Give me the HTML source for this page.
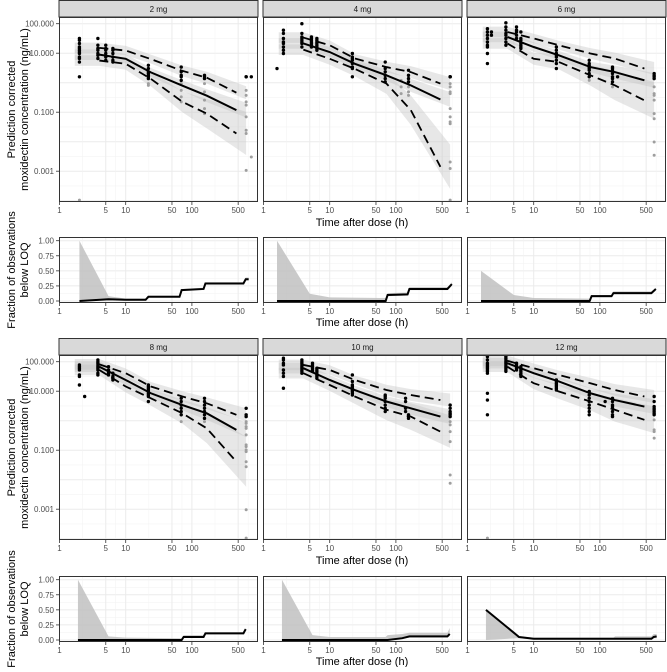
<!DOCTYPE html>
<html><head><meta charset="utf-8"><style>
html,body{margin:0;padding:0;background:#fff;}
svg text{font-family:"Liberation Sans",sans-serif;}
</style></head><body>
<svg id="chart" width="667" height="667" viewBox="0 0 667 667" xmlns="http://www.w3.org/2000/svg"></svg>
<script>
// ---- data ----
const panelLabels = ["2 mg","4 mg","6 mg","8 mg","10 mg","12 mg"];
const xTicks = [1,5,10,50,100,500];
const yTicksConc = [2,1,-1,-3];
const yTickLabelsConc = ["100.000","10.000","0.100","0.001"];
const yTicksBlq = [1,0.75,0.5,0.25,0];
const yTickLabelsBlq = ["1.00","0.75","0.50","0.25","0.00"];
const lineT = [4,10,24,72,168,470];
const bandT = [1.7,4,10,24,72,168,660];
const ciMedHW = [0.18,0.18,0.16,0.15,0.18,0.22,0.25];
const ciHiHW = [0.18,0.18,0.16,0.15,0.18,0.2,0.22];
const med = [
 [0.95,0.81,0.35,-0.10,-0.44,-0.93],
 [1.33,1.04,0.64,0.25,-0.09,-0.57],
 [1.55,1.21,0.93,0.53,0.36,0.08],
 [1.83,1.38,0.93,0.53,0.25,-0.31],
 [1.78,1.38,1.04,0.65,0.42,0.14],
 [1.95,1.61,1.33,0.93,0.70,0.48]];
const p95 = [
 [1.18,1.09,0.80,0.40,0.17,-0.34],
 [1.53,1.27,0.82,0.53,0.36,-0.03],
 [1.72,1.50,1.27,0.99,0.82,0.48],
 [1.91,1.61,1.16,0.82,0.59,0.20],
 [1.89,1.72,1.38,1.04,0.87,0.70],
 [2.03,1.78,1.55,1.27,1.04,0.82]];
const p05 = [
 [0.75,0.64,0.13,-0.65,-1.05,-1.72],
 [1.12,0.81,0.47,-0.03,-0.93,-2.85],
 [1.33,0.81,0.70,0.25,-0.09,-0.60],
 [1.72,1.16,0.76,0.25,-0.26,-1.39],
 [1.61,1.21,0.82,0.37,0.14,-0.37],
 [1.83,1.27,0.99,0.65,0.37,0.03]];
const ciLoHW = [
 [0.18,0.18,0.2,0.25,0.35,0.5,0.73],
 [0.18,0.18,0.2,0.25,0.35,0.5,0.75],
 [0.18,0.18,0.2,0.25,0.35,0.5,0.62],
 [0.18,0.18,0.2,0.25,0.35,0.5,0.85],
 [0.18,0.18,0.2,0.25,0.35,0.45,0.55],
 [0.18,0.18,0.2,0.25,0.3,0.4,0.45]];
// observations: [time (h), [log10 concentration...]]
const obsBlack = [
 [[2,[1.50,1.44,1.33,1.21,1.16,1.10,1.04,0.99,0.87,0.82,0.70,0.20]],[3.8,[1.50,1.27,1.16,1.10,0.99,0.93,0.82]],[5,[1.27,1.16,1.10,0.99,0.87,0.76]],[6.4,[1.16,1.10,0.99,0.87,0.76,0.70]],[22,[0.59,0.48,0.37,0.31,0.25,0.20,0.14]],[69,[0.53,0.37,0.25,0.20,0.08]],[155,[0.25,0.20,0.14]],[660,[0.20,0.20]],[790,[0.20]]],
 [[1.6,[0.48]],[2,[1.78,1.67,1.50,1.38,1.33,1.21,1.10,0.99]],[3.8,[2.00,1.67,1.55,1.50,1.44,1.38,1.33,1.21]],[5.3,[1.55,1.50,1.44,1.38,1.33,1.27,1.21]],[6.4,[1.50,1.44,1.38,1.33,1.27,1.21,1.16,1.10]],[22,[0.99,0.87,0.82,0.76,0.65,0.53,0.48,0.20]],[69,[0.70,0.48,0.37,0.25,0.14,0.03]],[155,[0.42,0.25,0.14,0.03]],[660,[0.20,0.20,0.20]]],
 [[2,[1.83,1.72,1.61,1.50,1.38,1.27,1.21,0.99,0.65]],[2.3,[1.72,1.61]],[3.8,[2.03,1.89,1.78,1.67,1.61,1.50,1.38,1.27]],[5.5,[1.89,1.78,1.72,1.61,1.50]],[6.4,[1.72,1.50,1.44,1.33,1.27,1.21,1.16]],[22,[1.21,1.10,0.99,0.93,0.87,0.76,0.65,0.48]],[69,[0.76,0.65,0.59,0.53,0.48,0.42,0.31,0.20]],[155,[0.53,0.48,0.42,0.31,0.20,0.14,0.03]],[185,[0.20]],[660,[0.31,0.25,0.20,0.14]]],
 [[2,[1.89,1.83,1.78,1.72,1.55,1.50,1.21]],[2.4,[0.82]],[3.8,[2.06,2.00,1.95,1.89,1.83,1.78,1.72,1.61,1.55]],[5.5,[1.83,1.72,1.67,1.61,1.55]],[6.4,[1.61,1.50,1.44,1.38]],[22,[1.21,1.16,1.10,1.04,0.99,0.93,0.87,0.82,0.65]],[69,[0.76,0.65,0.53,0.42,0.31,0.20]],[155,[0.76,0.65,0.53,0.42,0.31,0.20,0.08]],[660,[0.42,0.20,0.14]]],
 [[2,[2.12,2.06,1.95,1.89,1.72,1.61,1.50,1.10]],[3.8,[2.06,2.00,1.95,1.89,1.83,1.78,1.72,1.67,1.61]],[5.5,[1.95,1.89,1.83,1.78,1.72,1.67]],[6.4,[1.78,1.72,1.67,1.61,1.55,1.50,1.44]],[22,[1.55,1.33,1.21,1.16,1.10,1.04,0.99,0.93,0.87]],[69,[0.87,0.82,0.76,0.65,0.53,0.42,0.31]],[140,[0.76,0.65,0.42,0.31]],[155,[0.20,0.14,0.08]],[660,[0.53,0.42,0.31,0.25,0.20,0.14]]],
 [[2,[2.17,2.06,1.95,1.89,1.83,1.78,1.72,1.67,1.61,0.93,0.70,0.20]],[3.8,[2.17,2.12,2.06,2.00,1.95,1.89,1.83,1.78,1.72,1.67]],[5.5,[1.95,1.89,1.83,1.78,1.72]],[6.4,[1.83,1.78,1.72,1.67,1.61,1.55,1.50]],[22,[1.38,1.33,1.27,1.21,1.16,1.10,1.04]],[69,[0.99,0.87,0.76,0.65,0.53,0.42,0.31,0.20]],[120,[0.65]],[155,[0.76,0.65,0.53,0.48,0.42,0.31,0.20,0.14]],[660,[0.82,0.65,0.48,0.42,0.37,0.31,0.25,0.20]]]];
const obsGray = [
 [[2,[-3.98]],[22,[-0.03,-0.09]],[69,[-0.03,-0.26,-0.48,-0.65]],[155,[-0.03,-0.31,-0.59,-0.88,-1.05]],[660,[-0.26,-0.43,-0.65,-0.76,-1.16,-1.61,-1.72,-2.97]],[790,[-2.52]]],
 [[120,[0.08,-0.14,-0.37]],[155,[-0.14,-0.31,-0.43]],[660,[-0.03,-0.14,-0.31,-0.37,-0.88,-1.16,-1.33,-1.39,-2.69,-2.91,-3.98]]],
 [[69,[0.08]],[155,[-0.14]],[660,[-0.14,-0.37,-0.43,-0.59,-1.05,-1.22,-2.01,-2.46]]],
 [[69,[-0.03]],[155,[-0.03]],[660,[-0.03,-0.09,-0.20,-0.26,-0.48,-0.82,-0.88,-0.99,-1.05,-1.39,-1.56,-3.02,-3.98]]],
 [[660,[-0.03,-0.14,-0.37,-0.71,-1.84,-2.12]]],
 [[2,[-3.98]],[660,[0.03,-0.31,-0.37,-0.59]]]];
// BLQ fractions
const blqT = [
 [2,5.5,10,20,22,65,70,150,160,600,650,720],
 [1.6,5,10,70,75,150,160,600,700],
 [1.6,5,10,70,75,150,160,600,700],
 [1.9,5.5,10,70,75,150,160,600,650],
 [1.9,5.5,10,70,75,125,160,600,650],
 [1.9,6,10,160,170,600,650,720]];
const blqObs = [
 [0,0.03,0.02,0.02,0.07,0.07,0.18,0.2,0.29,0.29,0.36,0.36],
 [0,0,0,0,0.1,0.11,0.2,0.2,0.28],
 [0,0,0,0,0.08,0.08,0.13,0.13,0.2],
 [0,0,0,0,0.05,0.05,0.11,0.11,0.18],
 [0,0,0,0,0,0.03,0.06,0.06,0.1],
 [0.5,0.05,0.02,0.02,0.02,0.02,0.05,0.06]];
const blqHi = [
 [1.0,0.08,0.04,0.04,0.09,0.09,0.2,0.22,0.31,0.31,0.39,0.39],
 [1.0,0.12,0.06,0.05,0.13,0.14,0.23,0.23,0.31],
 [0.5,0.1,0.05,0.04,0.1,0.1,0.16,0.16,0.22],
 [1.0,0.06,0.04,0.03,0.08,0.08,0.13,0.13,0.2],
 [1.0,0.08,0.05,0.05,0.08,0.1,0.12,0.12,0.2],
 [0.5,0.06,0.04,0.04,0.06,0.06,0.1,0.1]];
const blqLo = [
 [0,0.02,0.01,0.01,0.06,0.06,0.17,0.19,0.28,0.28,0.34,0.34],
 [0,0,0,0,0.08,0.09,0.18,0.18,0.25],
 [0,0,0,0,0.06,0.06,0.11,0.11,0.17],
 [0,0,0,0,0.04,0.04,0.1,0.1,0.16],
 [0,0,0,0,0,0.02,0.04,0.04,0.07],
 [0,0.03,0.01,0.01,0.01,0.01,0.03,0.03]];

// ---- layout ----
const svg = document.getElementById('chart');
const NS = "http://www.w3.org/2000/svg";
const colX = [59,263,467], PW = 199;
const stripY = [0,338], concY = [17,355], blqY = [237,576], CH = 185, BH = 66;
function mk(tag, attrs, parent){ const e=document.createElementNS(NS,tag); for(const k in attrs) e.setAttribute(k,attrs[k]); (parent||svg).appendChild(e); return e; }
function xs(c,t){ return colX[c]+0.5+Math.log10(t)*66.2; }
function yc(r,v){ return concY[r]+6.7+(2-v)*29.5; }
function yb(r,f){ return blqY[r]+3.7+(1-f)*60.3; }
function txt(x,y,s,size,anchor,fill,parent){ const t=mk('text',{x:x,y:y,'font-size':size,'text-anchor':anchor||'middle',fill:fill||'#4d4d4d'},parent); t.textContent=s; return t; }

const xMinor = [Math.sqrt(5),Math.sqrt(50),Math.sqrt(500),Math.sqrt(5000),Math.sqrt(50000),Math.sqrt(500000)];

for(let p=0;p<6;p++){
  const r = Math.floor(p/3), c = p%3, x0 = colX[c];
  const g = mk('g',{});
  
  
  const s = mk('rect',{x:x0,y:stripY[r]+0.5,width:PW,height:16.5,fill:'#d9d9d9',stroke:'#333','stroke-width':1},g);
  
  
  const st = txt(x0+PW/2,stripY[r]+12,panelLabels[p],8,'middle','#1a1a1a',g);
  
  
  const cy0 = concY[r];
  mk('rect',{x:x0,y:cy0,width:PW,height:CH,fill:'#fff'},g);
  const clipId='clip'+p;
  const cp=mk('clipPath',{id:clipId},g); mk('rect',{x:x0,y:cy0,width:PW,height:CH},cp);
  const cg = mk('g',{'clip-path':'url(#'+clipId+')'},g);
  for(let v=-4.5; v<=2.5; v+=1) mk('line',{x1:x0,x2:x0+PW,y1:yc(r,v),y2:yc(r,v),stroke:'#f2f2f2','stroke-width':0.5},cg);
  for(let v=-4; v<=2; v++) mk('line',{x1:x0,x2:x0+PW,y1:yc(r,v),y2:yc(r,v),stroke:'#ebebeb','stroke-width':1},cg);
  xMinor.forEach(t=>mk('line',{x1:xs(c,t),x2:xs(c,t),y1:cy0,y2:cy0+CH,stroke:'#f2f2f2','stroke-width':0.5},cg));
  xTicks.forEach(t=>mk('line',{x1:xs(c,t),x2:xs(c,t),y1:cy0,y2:cy0+CH,stroke:'#ebebeb','stroke-width':1},cg));
  function band(center, hw, name){
    const cen=[center[0]].concat(center);
    let pts=[];
    bandT.forEach((t,i)=>pts.push(xs(c,t)+','+yc(r,cen[i]+hw[i])));
    for(let i=bandT.length-1;i>=0;i--) pts.push(xs(c,bandT[i])+','+yc(r,cen[i]-hw[i]));
    const b=mk('polygon',{points:pts.join(' '),fill:'#c4c4c4','fill-opacity':0.4},cg);
    
    
  }
  band(p95[p],ciHiHW,'ci-band-p95');
  band(med[p],ciMedHW,'ci-band-median');
  band(p05[p],ciLoHW[p],'ci-band-p05');
  obsGray[p].forEach(gr=>gr[1].forEach(v=>{
    const d=mk('circle',{cx:xs(c,gr[0]),cy:yc(r,v),r:1.5,fill:'#9e9e9e'},cg);
    
    
  }));
  obsBlack[p].forEach(gr=>gr[1].forEach(v=>{
    const d=mk('circle',{cx:xs(c,gr[0]),cy:yc(r,v),r:1.7,fill:'#000'},cg);
    
    
  }));
  function line(vals, dash, name){
    const pts=lineT.map((t,i)=>xs(c,t)+','+yc(r,vals[i])).join(' ');
    const l=mk('polyline',{points:pts,fill:'none',stroke:'#000','stroke-width':dash?1.8:2,'stroke-dasharray':dash||'none'},cg);
    
    
  }
  line(p95[p],'9,5','line-p95');
  line(p05[p],'9,5','line-p05');
  line(med[p],null,'line-median');
  mk('rect',{x:x0+0.5,y:cy0+0.5,width:PW-1,height:CH-1,fill:'none',stroke:'#333','stroke-width':1},g);
  xTicks.forEach(t=>{ mk('line',{x1:xs(c,t),x2:xs(c,t),y1:cy0+CH,y2:cy0+CH+3,stroke:'#333','stroke-width':0.8},g);
    txt(xs(c,t),cy0+CH+11,String(t),8,'middle','#4d4d4d',g); });
  if(c===0){ yTicksConc.forEach((v,i)=>{ mk('line',{x1:x0-3,x2:x0,y1:yc(r,v),y2:yc(r,v),stroke:'#333','stroke-width':0.8},g);
    txt(x0-5,yc(r,v)+3,yTickLabelsConc[i],8,'end','#4d4d4d',g); }); }
  const by0 = blqY[r];
  mk('rect',{x:x0,y:by0,width:PW,height:BH,fill:'#fff'},g);
  const bg = mk('g',{},g);
  for(let f=0.125; f<1.1; f+=0.25) mk('line',{x1:x0,x2:x0+PW,y1:yb(r,f),y2:yb(r,f),stroke:'#f2f2f2','stroke-width':0.5},bg);
  yTicksBlq.forEach(f=>mk('line',{x1:x0,x2:x0+PW,y1:yb(r,f),y2:yb(r,f),stroke:'#ebebeb','stroke-width':1},bg));
  xMinor.forEach(t=>mk('line',{x1:xs(c,t),x2:xs(c,t),y1:by0,y2:by0+BH,stroke:'#f2f2f2','stroke-width':0.5},bg));
  xTicks.forEach(t=>mk('line',{x1:xs(c,t),x2:xs(c,t),y1:by0,y2:by0+BH,stroke:'#ebebeb','stroke-width':1},bg));
  let bp=[];
  blqT[p].forEach((t,i)=>bp.push(xs(c,t)+','+yb(r,blqHi[p][i])));
  for(let i=blqT[p].length-1;i>=0;i--) bp.push(xs(c,blqT[p][i])+','+yb(r,blqLo[p][i]));
  const bb=mk('polygon',{points:bp.join(' '),fill:'#bdbdbd','fill-opacity':0.8},bg);
  
  
  const bl=mk('polyline',{points:blqT[p].map((t,i)=>xs(c,t)+','+yb(r,blqObs[p][i])).join(' '),fill:'none',stroke:'#000','stroke-width':2},bg);
  
  
  mk('rect',{x:x0+0.5,y:by0+0.5,width:PW-1,height:BH-1,fill:'none',stroke:'#333','stroke-width':1},g);
  xTicks.forEach(t=>{ mk('line',{x1:xs(c,t),x2:xs(c,t),y1:by0+BH,y2:by0+BH+3,stroke:'#333','stroke-width':0.8},g);
    txt(xs(c,t),by0+BH+11,String(t),8,'middle','#4d4d4d',g); });
  if(c===0){ yTicksBlq.forEach((f,i)=>{ mk('line',{x1:x0-3,x2:x0,y1:yb(r,f),y2:yb(r,f),stroke:'#333','stroke-width':0.8},g);
    txt(x0-5,yb(r,f)+3,yTickLabelsBlq[i],8,'end','#4d4d4d',g); }); }
}
[0,1].forEach(r=>{
  const t1=txt(362,concY[r]+CH+24,'Time after dose (h)',11,'middle','#000');
  
  
  const t2=txt(362,blqY[r]+BH+23,'Time after dose (h)',11,'middle','#000');
  
  
  const cyc=concY[r]+CH/2;
  const y1=txt(0,0,'Prediction corrected',11,'middle','#000');
  y1.setAttribute('transform','translate(15,'+cyc+') rotate(-90)');
  
  
  const y2=txt(0,0,'moxidectin concentration (ng/mL)',11,'middle','#000');
  y2.setAttribute('transform','translate(28,'+cyc+') rotate(-90)');
  
  
  const byc=blqY[r]+BH/2;
  const y3=txt(0,0,'Fraction of observations',11,'middle','#000');
  y3.setAttribute('transform','translate(15,'+byc+') rotate(-90)');
  
  
  const y4=txt(0,0,'below LOQ',11,'middle','#000');
  y4.setAttribute('transform','translate(28,'+byc+') rotate(-90)');
  
  
});
</script>
</body></html>
